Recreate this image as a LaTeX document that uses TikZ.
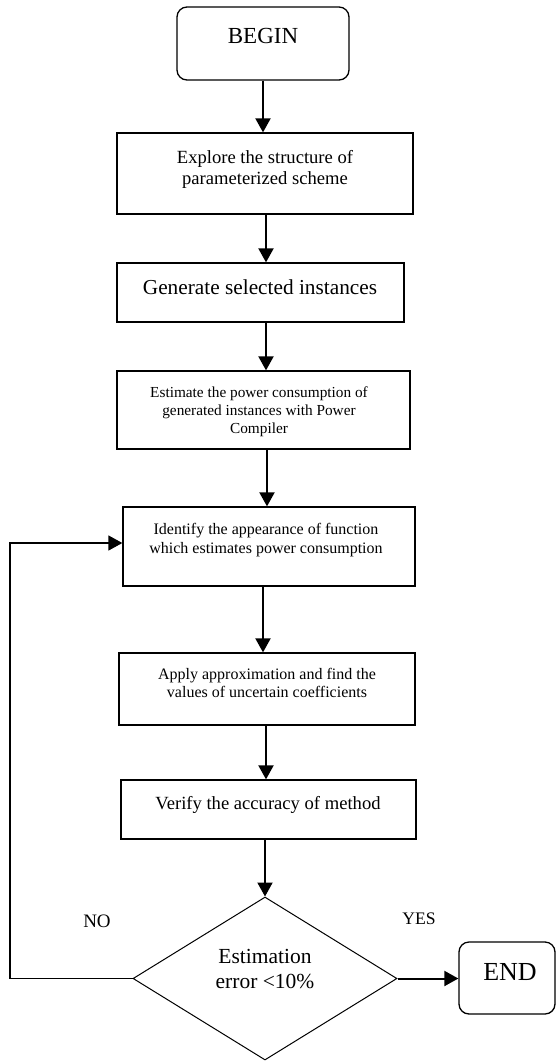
\documentclass[tikz,border=0pt]{standalone}
\usepackage{fontspec}
\setmainfont{Liberation Serif}
\usetikzlibrary{arrows.meta,shapes.geometric}
\tikzset{
  boxst/.style={draw, line width=1.3pt, rectangle, inner sep=0pt},
  roundst/.style={boxst, rounded corners=10pt},
  decst/.style={draw, line width=1pt, diamond, inner sep=0pt, aspect=1.6},
  arr/.style={line width=2pt, -{Triangle[width=15pt,length=14pt]}},
  looparr/.style={line width=1.4pt, -{Triangle[width=15pt,length=14pt]}},
  txt/.style={anchor=base, align=center, inner sep=0pt},
}
\newcommand{\fs}[2]{\fontsize{#1}{#2}\selectfont}
\begin{document}
\begin{tikzpicture}[x=1pt,y=-1pt]
\useasboundingbox (0,0) rectangle (557,1061);
% shapes
\node[roundst, minimum width=172pt, minimum height=73pt] (begin) at (263,43.5) {};
\node[boxst, minimum width=296pt, minimum height=81pt] (b1) at (265,173.5) {};
\node[boxst, minimum width=287pt, minimum height=59pt] (b2) at (260.5,292.5) {};
\node[boxst, minimum width=293pt, minimum height=78pt] (b3) at (263.5,410) {};
\node[boxst, minimum width=292pt, minimum height=79pt] (b4) at (269,546.5) {};
\node[boxst, minimum width=296pt, minimum height=72pt] (b5) at (267,689) {};
\node[boxst, minimum width=295pt, minimum height=59pt] (b6) at (268.5,809.5) {};
\node[decst, minimum width=264pt, minimum height=163pt] (dec) at (265,978.5) {};
\node[roundst, minimum width=96pt, minimum height=72pt] (end) at (507,978) {};
% texts
\node[txt] (tbegin) at (263,43) {\fs{23}{27}BEGIN};
\node[txt] (t1a) at (265,163) {\fs{18.6}{21}Explore the structure of};
\node[txt] (t1b) at (265,184) {\fs{18.6}{21}parameterized scheme};
\node[txt] (t2) at (260,294) {\fs{21.3}{25}Generate selected instances};
\node[txt] (t3a) at (259,397) {\fs{15.3}{18}Estimate the power consumption of};
\node[txt] (t3b) at (259,415) {\fs{15.3}{18}generated instances with Power};
\node[txt] (t3c) at (259,433) {\fs{15.3}{18}Compiler};
\node[txt] (t4a) at (266,534) {\fs{16}{19}Identify the appearance of function};
\node[txt] (t4b) at (266,553) {\fs{16}{19}which estimates power consumption};
\node[txt] (t5a) at (267,679) {\fs{16}{19}Apply approximation and find the};
\node[txt] (t5b) at (267,697) {\fs{16}{19}values of uncertain coefficients};
\node[txt] (t6) at (268,809) {\fs{18.6}{22}Verify the accuracy of method};
\node[txt] (tda) at (265,963) {\fs{21.5}{25}Estimation};
\node[txt] (tdb) at (265,988) {\fs{21.5}{25}error <10\%};
\node[txt] (tend) at (510,980) {\fs{26}{30}END};
\node[txt] (tno) at (97,927) {\fs{19}{22}NO};
\node[txt] (tyes) at (419,924) {\fs{17.6}{21}YES};
% connector helper coordinates
\coordinate (x266) at (266,0);
\coordinate (x267) at (267,0);
\coordinate (x263) at (263,0);
\coordinate (lp) at (10,543);
% connectors
\draw[arr] (begin.south) -- (begin.south |- b1.north);
\draw[arr] (b1.south -| x266) -- (b2.north -| x266);
\draw[arr] (b2.south -| x266) -- (b3.north -| x266);
\draw[arr] (b3.south -| x267) -- (b4.north -| x267);
\draw[arr] (b4.south -| x263) -- (b5.north -| x263);
\draw[arr] (b5.south -| x266) -- (b6.north -| x266);
\draw[arr] (b6.south -| dec.north) -- (dec.north);
\draw[arr] (dec.east) -- (dec.east -| end.west);
\draw[looparr] (dec.west) -| (lp) -- (lp -| b4.west);
\end{tikzpicture}
\end{document}
